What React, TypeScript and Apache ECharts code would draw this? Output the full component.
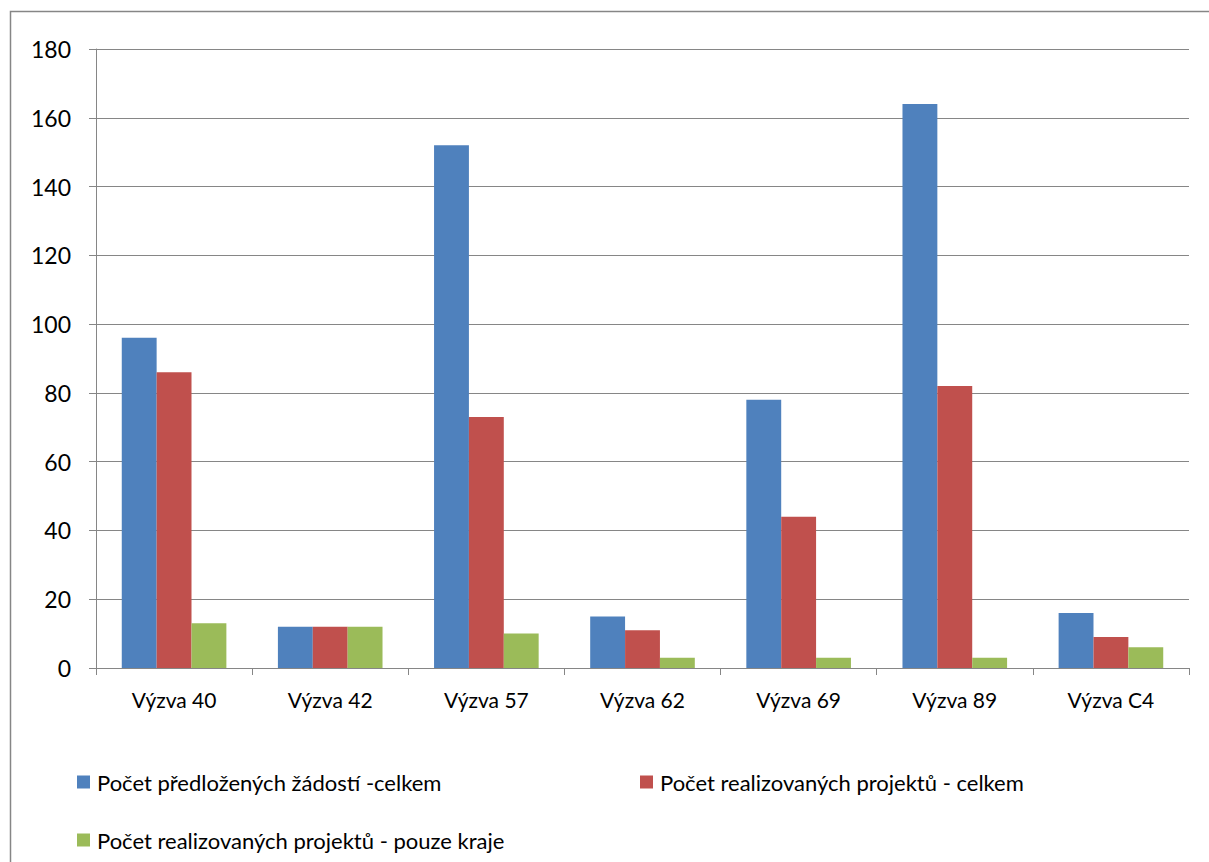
import React, { useEffect, useRef } from "react";
import * as echarts from "echarts";

const categories = ["Výzva 40", "Výzva 42", "Výzva 57", "Výzva 62", "Výzva 69", "Výzva 89", "Výzva C4"];
const seriesNames = [
  "Počet předložených žádostí -celkem",
  "Počet realizovaných projektů - celkem",
  "Počet realizovaných projektů - pouze kraje",
];
const predlozene = [96, 12, 152, 15, 78, 164, 16];
const realizovane = [86, 12, 73, 11, 44, 82, 9];
const kraje = [13, 12, 10, 3, 3, 3, 6];
const colors = ["#4F81BD", "#C0504D", "#9BBB59"];

const FONT = "Lato";

export default function App() {
  const ref = useRef<HTMLDivElement>(null);
  useEffect(() => {
    if (!ref.current) return;
    const chart = echarts.init(ref.current, null, { renderer: "svg" });
    const values = [predlozene, realizovane, kraje];
    chart.setOption({
      animation: false,
      backgroundColor: "#ffffff",
      textStyle: { fontFamily: FONT },
      grid: { left: 96, right: 20, top: 49, bottom: 194 },
      graphic: [
        {
          type: "rect",
          shape: { x: 10.5, y: 11.5, width: 1400, height: 1000 },
          style: { fill: "none", stroke: "#868686", lineWidth: 1.5 },
          silent: true,
        },
      ],
      legend: [0, 1, 2].map((i) => ({
        data: [seriesNames[i]],
        left: [77, 640, 77][i],
        top: [771, 771, 829][i],
        padding: 0,
        itemWidth: 13,
        itemHeight: 13,
        itemGap: 0,
        icon: "rect",
        textStyle: { fontFamily: FONT, fontSize: 22, color: "#000", padding: [0, 0, 0, 2] },
      })),
      xAxis: {
        type: "category",
        data: categories,
        boundaryGap: true,
        axisLine: { lineStyle: { color: "#868686", width: 1 } },
        axisTick: { show: true, length: 7, lineStyle: { color: "#868686" } },
        axisLabel: { fontFamily: FONT, fontSize: 21, color: "#000", margin: 21 },
      },
      yAxis: {
        type: "value",
        min: 0,
        max: 180,
        interval: 20,
        axisLine: { show: true, lineStyle: { color: "#868686", width: 1 } },
        axisTick: { show: true, length: 7, lineStyle: { color: "#868686" } },
        axisLabel: { fontFamily: FONT, fontSize: 23, color: "#000", margin: 25 },
        splitLine: { lineStyle: { color: "#868686", width: 1 } },
      },
      series: values.map((v, i) => ({
        name: seriesNames[i],
        type: "bar",
        data: v,
        barGap: "0%",
        barCategoryGap: "33%",
        itemStyle: { color: colors[i] },
      })),
    });
    return () => chart.dispose();
  }, []);
  return (
    <div
      ref={ref}
      style={{ position: "absolute", left: 0, top: 0, width: 1209, height: 862 }}
    />
  );
}
